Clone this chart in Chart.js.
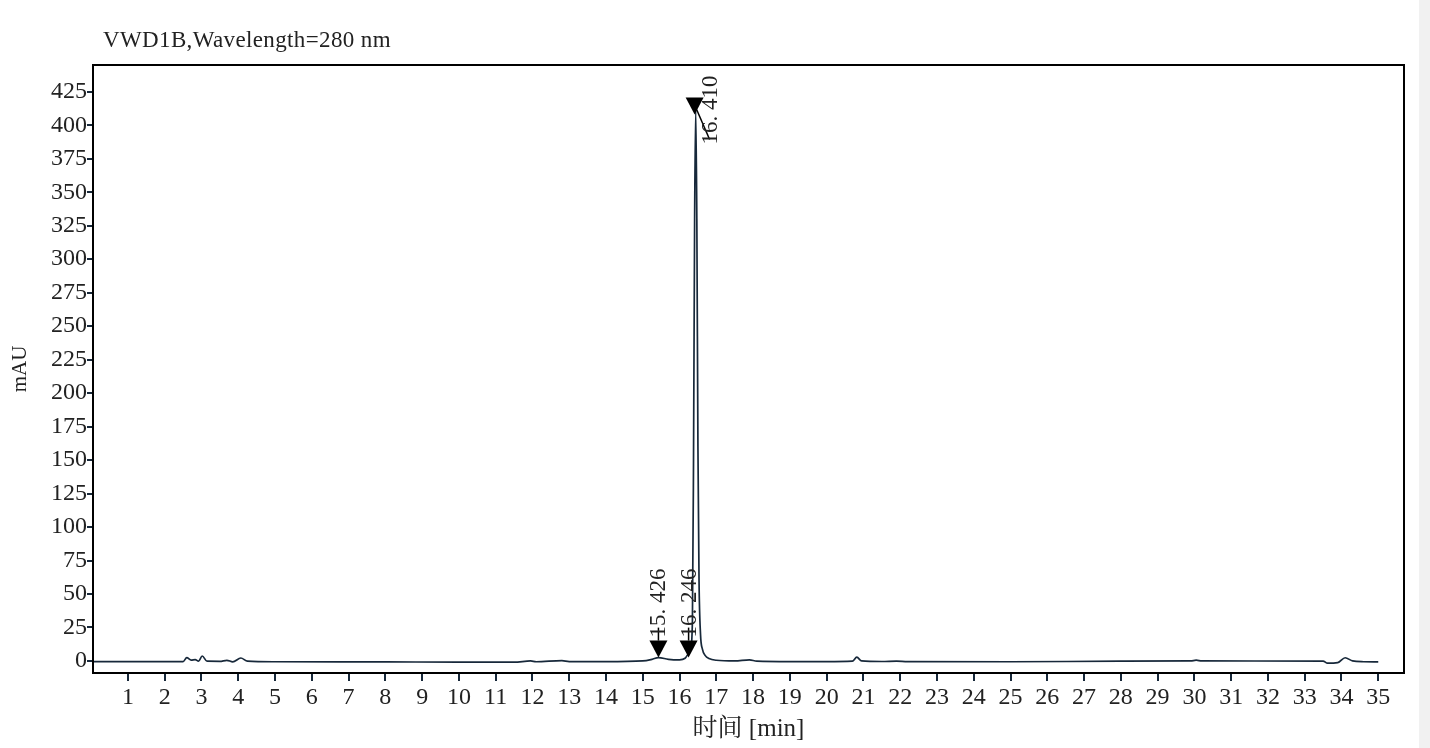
<!DOCTYPE html>
<html lang="zh-cn">
<head>
<meta charset="UTF-8">
<title>VWD1B, Wavelength=280 nm</title>
<script src="https://cdn.jsdelivr.net/npm/chart.js"></script>
<style>
  body { margin: 0; background: #f1f1f1; }
  canvas { display: block; background: #fff; }
</style>
</head>
<body>
<canvas id="chrom" width="1419" height="748"></canvas>
<script>
// chromatogram trace (min, mAU)
const times = [0.05, 2.5, 2.6, 2.72, 2.83, 2.92, 3.02, 3.15, 3.5, 3.69, 3.85, 4.07, 4.25, 5, 8, 10, 11.5, 11.95, 12.1, 12.8, 13.0, 14.0,
  15.0, 15.25, 15.426, 15.7, 16.0, 16.15, 16.246, 16.3, 16.35, 16.38, 16.41, 16.44, 16.47, 16.5, 16.53, 16.57, 16.62, 16.7, 16.8,
  17.0, 17.5, 17.9, 18.1, 19.0, 20.0, 20.7, 20.82, 20.95, 21.5, 21.9, 22.2, 25.0, 28.0, 29.9, 30.05, 30.2, 33.5, 33.62, 33.9,
  34.1, 34.3, 34.6, 35.0];
const mAU = [-0.5, -0.5, 2.5, 0.6, 1.0, -0.2, 3.7, -0.2, -0.3, 0.5, -0.7, 2.2, -0.2, -0.6, -0.7, -0.9, -0.9, 0.0, -0.6, 0.2, -0.5, -0.5,
  0.0, 1.2, 2.5, 1.2, 0.8, 2.0, 5.5, 8, 30, 150, 330, 412, 330, 160, 60, 20, 9, 4, 1.8,
  0.5, 0.0, 0.8, -0.2, -0.5, -0.5, -0.2, 2.8, 0.0, -0.4, -0.1, -0.5, -0.6, -0.2, 0.0, 0.6, 0.0, -0.1, -1.7, -1.3,
  2.4, 0.0, -0.6, -0.7];

const xTicks = [1, 2, 3, 4, 5, 6, 7, 8, 9, 10, 11, 12, 13, 14, 15, 16, 17, 18, 19, 20, 21, 22, 23, 24, 25, 26, 27, 28, 29, 30, 31, 32, 33, 34, 35];
const yTicks = [0, 25, 50, 75, 100, 125, 150, 175, 200, 225, 250, 275, 300, 325, 350, 375, 400, 425];

const peakTimes = [15.426, 16.246, 16.410];
const peakTips = [2.5, 2.5, 408];
const peakLabels = ['15. 426', '16. 246', '16. 410'];

const chartTitle = 'VWD1B,Wavelength=280 nm';

const serif = '"Liberation Serif", "Noto Serif CJK SC", "Noto Sans CJK SC", serif';
const ink = '#17283a';

const decor = {
  id: 'decor',
  afterDraw(chart) {
    const ctx = chart.ctx;
    const a = chart.chartArea;
    const xs = chart.scales.x, ys = chart.scales.y;
    ctx.save();
    // frame
    ctx.strokeStyle = '#000';
    ctx.lineWidth = 2;
    ctx.strokeRect(a.left, a.top, a.right - a.left, a.bottom - a.top);

    // title
    ctx.fillStyle = '#222';
    ctx.font = '23px ' + serif;
    ctx.textBaseline = 'middle';
    const w = ctx.measureText(chartTitle).width;
    ctx.letterSpacing = ((288 - w) / chartTitle.length).toFixed(2) + 'px';
    ctx.fillText(chartTitle, a.left + 10, 41);
    ctx.letterSpacing = '0px';

    // peak markers
    ctx.fillStyle = '#000';
    ctx.strokeStyle = '#000';
    ctx.lineWidth = 1.5;
    ctx.font = '23px ' + serif;
    peakTimes.forEach((t, i) => {
      const x = xs.getPixelForValue(t);
      const y = ys.getPixelForValue(peakTips[i]);
      ctx.beginPath();
      ctx.moveTo(x - 9, y - 17);
      ctx.lineTo(x + 9, y - 17);
      ctx.lineTo(x, y);
      ctx.closePath();
      ctx.fill();
      ctx.fillStyle = '#222';
      ctx.save();
      if (y - a.top > 120) {
        // label above the arrow
        ctx.beginPath();
        ctx.moveTo(x, y - 17);
        ctx.lineTo(x, y - 30);
        ctx.stroke();
        ctx.translate(x, y - 20);
        ctx.rotate(-Math.PI / 2);
        ctx.textAlign = 'left';
        ctx.textBaseline = 'middle';
        ctx.fillText(peakLabels[i], 0, 1);
      } else {
        // tall peak: label beside the arrow
        ctx.beginPath();
        ctx.moveTo(x + 2, y - 5);
        ctx.lineTo(x + 15, y + 25);
        ctx.stroke();
        ctx.translate(x + 16, y + 30);
        ctx.rotate(-Math.PI / 2);
        ctx.textAlign = 'left';
        ctx.textBaseline = 'middle';
        ctx.fillText(peakLabels[i], 0, 0);
      }
      ctx.restore();
      ctx.fillStyle = '#000';
    });
    ctx.restore();
  }
};

new Chart(document.getElementById('chrom'), {
  type: 'line',
  data: {
    datasets: [{
      data: times.map((t, i) => ({ x: t, y: mAU[i] })),
      borderColor: ink,
      borderWidth: 1.7,
      pointRadius: 0,
      cubicInterpolationMode: 'monotone',
      fill: false
    }]
  },
  options: {
    responsive: false,
    devicePixelRatio: 1,
    animation: false,
    layout: { padding: { top: 65, right: 15, left: 0, bottom: 0 } },
    plugins: { legend: { display: false }, tooltip: { enabled: false } },
    scales: {
      x: {
        type: 'linear',
        min: 0.05,
        max: 35.7,
        afterBuildTicks: s => { s.ticks = xTicks.map(v => ({ value: v })); },
        afterFit: s => { s.height = 75; },
        grid: { drawOnChartArea: false, drawTicks: true, tickLength: 8, color: ink, lineWidth: 2 },
        border: { display: false },
        ticks: { color: '#222', padding: 2, maxRotation: 0, autoSkip: false, font: { family: serif, size: 24 } },
        title: { display: true, text: '时间 [min]', color: '#222', font: { family: serif, size: 25 }, padding: { top: 0, bottom: 4 } }
      },
      y: {
        min: -9,
        max: 445,
        afterBuildTicks: s => { s.ticks = yTicks.map(v => ({ value: v })); },
        afterFit: s => { s.width = 93; },
        grid: { drawOnChartArea: false, drawTicks: true, tickLength: 6, color: ink, lineWidth: 2 },
        border: { display: false },
        ticks: { color: '#222', padding: 0, autoSkip: false, font: { family: serif, size: 24 } },
        title: { display: true, text: 'mAU', color: '#222', font: { family: serif, size: 21 }, padding: { top: 8, bottom: 6 } }
      }
    }
  },
  plugins: [decor]
});
</script>
</body>
</html>
